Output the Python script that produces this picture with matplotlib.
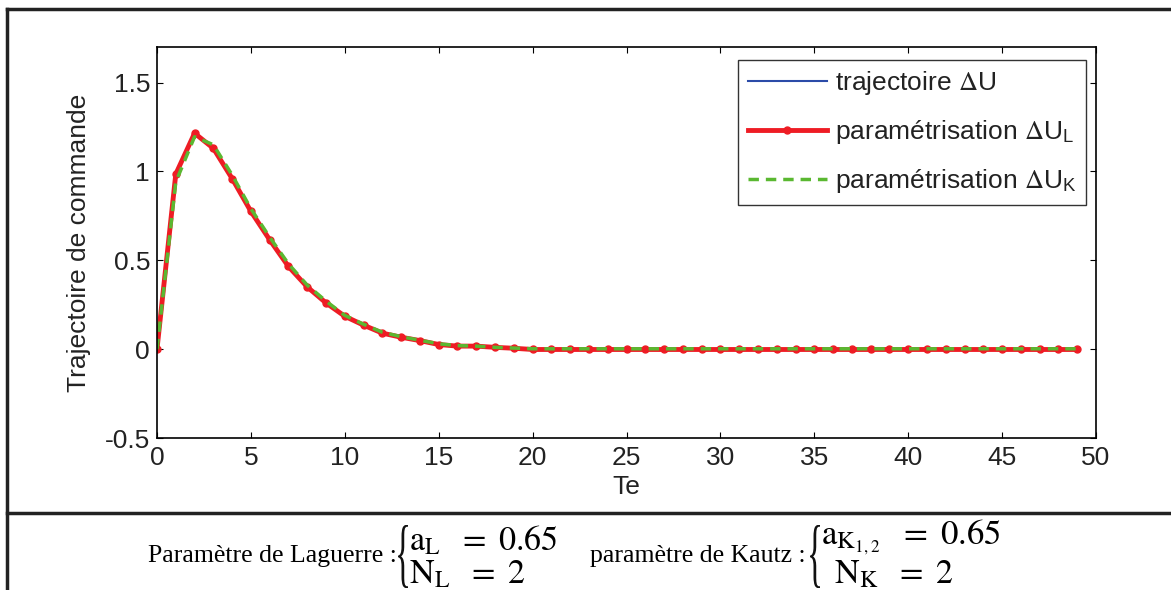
import numpy as np
import matplotlib
matplotlib.use('Agg')
import matplotlib.pyplot as plt
from matplotlib.lines import Line2D
from matplotlib.textpath import TextPath
from matplotlib.patches import PathPatch
from matplotlib.font_manager import FontProperties
from matplotlib.transforms import Affine2D

# sample index (Te)
te = np.arange(0, 50)

# trajectoire Delta U (reference)
du_ref = [0, 0.98, 1.21, 1.13, 0.96, 0.78, 0.62, 0.47, 0.35, 0.26,
          0.185, 0.135, 0.095, 0.067, 0.048, 0.027, 0.018, 0.016, 0.01, 0.005,
          0, 0, 0, 0, 0, 0, 0, 0, 0, 0,
          0, 0, 0, 0, 0, 0, 0, 0, 0, 0,
          0, 0, 0, 0, 0, 0, 0, 0, 0, 0]
# Laguerre parametrisation
du_lag = [0, 0.985, 1.215, 1.13, 0.96, 0.775, 0.615, 0.465, 0.35, 0.26,
          0.185, 0.135, 0.09, 0.067, 0.048, 0.026, 0.017, 0.017, 0.01, 0.005,
          -0.002, -0.002, -0.002, -0.002, -0.002, -0.002, -0.002, -0.002, -0.002, -0.002,
          -0.002, -0.002, -0.002, -0.002, -0.002, -0.002, -0.002, -0.002, -0.002, -0.002,
          -0.002, -0.002, -0.002, -0.002, -0.002, -0.002, -0.002, -0.002, -0.002, -0.002]
# Kautz parametrisation
du_kau = [0, 0.94, 1.195, 1.15, 0.98, 0.79, 0.63, 0.48, 0.36, 0.27,
          0.19, 0.14, 0.095, 0.07, 0.05, 0.03, 0.02, 0.017, 0.01, 0.006,
          0.002, 0.002, 0.002, 0.002, 0.002, 0.002, 0.002, 0.002, 0.002, 0.002,
          0.002, 0.002, 0.002, 0.002, 0.002, 0.002, 0.002, 0.002, 0.002, 0.002,
          0.002, 0.002, 0.002, 0.002, 0.002, 0.002, 0.002, 0.002, 0.002, 0.002]

x_ticks = [0, 5, 10, 15, 20, 25, 30, 35, 40, 45, 50]
y_ticks = [-0.5, 0, 0.5, 1, 1.5]

plt.rcParams['font.family'] = ['Liberation Sans', 'DejaVu Sans']
plt.rcParams['mathtext.fontset'] = 'stix'

W, H = 1171, 590
fig = plt.figure(figsize=(W/100, H/100), dpi=100)
ax = fig.add_axes([157/W, 1-438/H, (1096-157)/W, (438-47)/H])

ax.plot(te, du_ref, '-', color='#2b4ba8', lw=1.5, label=r'trajectoire $\Delta$U')
ax.plot(te, du_lag, '-', color='#ee1c24', lw=3.5, marker='o', ms=5,
        label=r'paramétrisation $\Delta$U$_\mathregular{L}$')
ax.plot(te, du_kau, '--', color='#5ab831', lw=2.5, dashes=(3, 2),
        label=r'paramétrisation $\Delta$U$_\mathregular{K}$')

ax.set_xlim(0, 50)
ax.set_ylim(-0.5, 1.7)
ax.set_xticks(x_ticks)
ax.set_yticks(y_ticks)
ax.set_yticklabels(['-0.5', '0', '0.5', '1', '1.5'])
ax.tick_params(direction='in', length=4, labelsize=19, top=True, right=True,
               width=0.8, labelcolor='#222222')
ax.tick_params(axis='x', pad=6)
ax.tick_params(axis='y', pad=5)
for s in ax.spines.values():
    s.set_linewidth(1.2)
ax.set_xlabel('Te', fontsize=19, labelpad=3, color='#222222')
ax.set_ylabel('Trajectoire de commande', fontsize=19, labelpad=10, color='#222222')

leg = ax.legend(loc='upper right', fontsize=19, frameon=True, fancybox=False,
                edgecolor='black', handlelength=3.0, handletextpad=0.3,
                borderpad=0.35, labelspacing=0.8, borderaxespad=0,
                bbox_to_anchor=(0.989, 0.967))
leg.get_frame().set_linewidth(1.0)
for t in leg.get_texts():
    t.set_color('#222222')

# table frame
for xs, ys in [([7, W], [9, 9]), ([7, 7], [9, H]), ([7, W], [513, 513])]:
    fig.add_artist(Line2D([x/W for x in xs], [1-y/H for y in ys],
                          color='#222222', lw=2.5, transform=fig.transFigure))

def ft(x, y, s, **kw):
    fig.text(x/W, 1-y/H, s, **kw)

# tall narrow brace drawn from a glyph outline
brace_path = TextPath((0, 0), '{', size=60,
                      prop=FontProperties(family='Liberation Serif'))

def brace(x, ytop, ybot):
    ext = brace_path.get_extents()
    sx = 10 / ext.width
    sy = (ybot - ytop) / ext.height
    tr = (Affine2D().translate(-ext.x0, -ext.y0).scale(sx, sy)
          .translate(x, H - ybot).scale(1/W, 1/H) + fig.transFigure)
    fig.add_artist(PathPatch(brace_path, transform=tr, color='#111111', lw=0))

serif = ['Liberation Serif', 'DejaVu Serif']
ft(148, 556, 'Paramètre de Laguerre :', family=serif, fontsize=18.5, va='center')
brace(398, 525, 588)
ft(409, 540, r'$\mathrm{a_L\ \ =\ 0.65}$', fontsize=24.5, va='center')
ft(409, 574, r'$\mathrm{N_L\ \ =\ 2}$', fontsize=24.5, va='center')

ft(590, 556, 'paramètre de Kautz :', family=serif, fontsize=18.5, va='center')
brace(810, 525, 588)
ft(821, 537, r'$\mathrm{a_{K_{1,2}}\ \ =\ 0.65}$', fontsize=25, va='center')
ft(834, 574, r'$\mathrm{N_K\ \ =\ 2}$', fontsize=24.5, va='center')

fig.savefig('out.png', dpi=100)
